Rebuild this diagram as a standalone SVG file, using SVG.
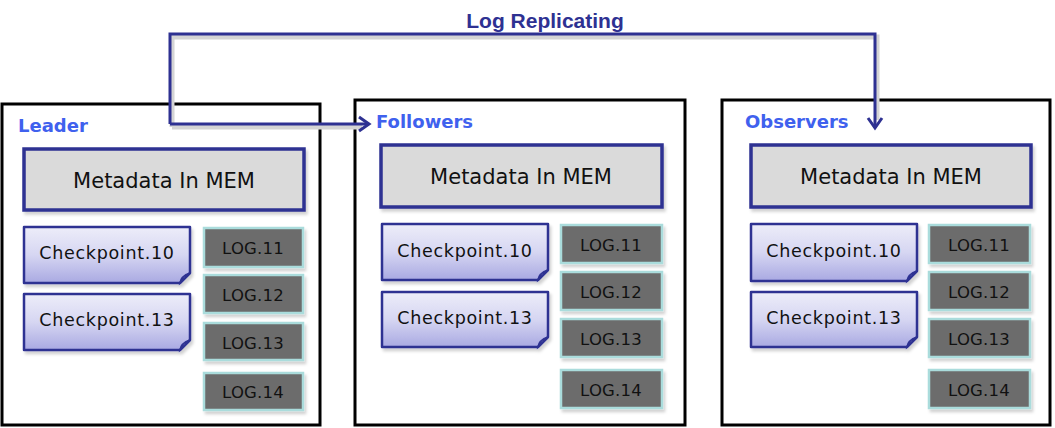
<svg xmlns="http://www.w3.org/2000/svg" width="1055" height="428" viewBox="0 0 1055 428">
<style>
.frame{fill:#fff;stroke:#000;stroke-width:3}
.lbl{font-family:"DejaVu Sans",Verdana,sans-serif;font-weight:bold;font-size:18px;fill:#3f61ee}
.meta{fill:#dadada;stroke:#2e3192;stroke-width:3.5}
.metaT{font-family:"DejaVu Sans",Verdana,sans-serif;font-size:21px;fill:#111;text-anchor:middle}
.cp{fill:url(#cpg);stroke:#2e3192;stroke-width:2.5;stroke-linejoin:round}
.fold{fill:#c8c8ee;stroke:#2e3192;stroke-width:1.8}
.cpT{font-family:"DejaVu Sans",Verdana,sans-serif;font-size:17.5px;letter-spacing:0.7px;fill:#111;text-anchor:middle}
.log{fill:#6c6c6c;stroke:#aadcdc;stroke-width:2.5}
.logT{font-family:"DejaVu Sans",Verdana,sans-serif;font-size:16.5px;letter-spacing:0.2px;fill:#111;text-anchor:middle}
.conn{fill:none;stroke:#2e3192;stroke-width:3}
.connS{fill:none;stroke:#d4d4d4;stroke-width:5}
.title{font-family:"Liberation Sans",Arial,sans-serif;font-weight:bold;font-size:21px;fill:#2e3192;text-anchor:middle}
</style>
<defs>
<linearGradient id="cpg" x1="0" y1="0" x2="0" y2="1">
<stop offset="0" stop-color="#ededf9"/>
<stop offset="0.5" stop-color="#d6d6f2"/>
<stop offset="1" stop-color="#a9a9e2"/>
</linearGradient>
<filter id="sh" x="-10%" y="-10%" width="130%" height="140%">
<feDropShadow dx="2" dy="3" stdDeviation="1.5" flood-color="#000" flood-opacity="0.18"/>
</filter>
<marker id="arr" markerUnits="userSpaceOnUse" markerWidth="20" markerHeight="20" viewBox="-12 -10 14 20" refX="0" refY="0" orient="auto">
<path d="M-10,-7 L0,0 L-10,7" fill="none" stroke="#2e3192" stroke-width="3"/>
</marker>
</defs>

<g id="title"><text class="title" x="545" y="28">Log Replicating</text></g>

<g id="leader">
<rect class="frame" x="2" y="104" width="318" height="321"/>
<text class="lbl" x="18" y="132">Leader</text>
<g filter="url(#sh)">
<rect class="meta" x="24" y="149" width="280" height="61"/>
<path class="cp" d="M24,227 H190 V273 L180,283 H24 Z"/>
<path class="fold" d="M190,273 L180,283 Q181,276 190,273 Z"/>
<path class="cp" d="M24,294 H190 V340 L180,350 H24 Z"/>
<path class="fold" d="M190,340 L180,350 Q181,343 190,340 Z"/>
<rect class="log" x="204" y="228" width="99" height="39"/>
<rect class="log" x="204" y="275" width="99" height="38"/>
<rect class="log" x="204" y="323" width="99" height="37"/>
<rect class="log" x="204" y="373" width="99" height="37"/>
</g>
<text class="metaT" x="164" y="188">Metadata In MEM</text>
<text class="cpT" x="107" y="259">Checkpoint.10</text>
<text class="cpT" x="107" y="326">Checkpoint.13</text>
<text class="logT" x="253" y="254">LOG.11</text>
<text class="logT" x="253" y="301">LOG.12</text>
<text class="logT" x="253" y="349">LOG.13</text>
<text class="logT" x="253" y="398">LOG.14</text>
</g>

<g id="followers">
<rect class="frame" x="355" y="100" width="330" height="325"/>
<text class="lbl" x="376" y="128">Followers</text>
<g filter="url(#sh)">
<rect class="meta" x="381" y="145" width="281" height="62"/>
<path class="cp" d="M382,224 H548 V270 L538,280 H382 Z"/>
<path class="fold" d="M548,270 L538,280 Q539,273 548,270 Z"/>
<path class="cp" d="M382,292 H548 V337 L538,347 H382 Z"/>
<path class="fold" d="M548,337 L538,347 Q539,340 548,337 Z"/>
<rect class="log" x="561" y="225" width="101" height="38"/>
<rect class="log" x="561" y="272" width="101" height="38"/>
<rect class="log" x="561" y="319" width="101" height="38"/>
<rect class="log" x="561" y="370" width="101" height="38"/>
</g>
<text class="metaT" x="521" y="184">Metadata In MEM</text>
<text class="cpT" x="465" y="257">Checkpoint.10</text>
<text class="cpT" x="465" y="324">Checkpoint.13</text>
<text class="logT" x="611" y="251">LOG.11</text>
<text class="logT" x="611" y="298">LOG.12</text>
<text class="logT" x="611" y="345">LOG.13</text>
<text class="logT" x="611" y="396">LOG.14</text>
</g>

<g id="observers">
<rect class="frame" x="722" y="100" width="328" height="325"/>
<text class="lbl" x="745" y="128">Observers</text>
<g filter="url(#sh)">
<rect class="meta" x="751" y="145" width="280" height="62"/>
<path class="cp" d="M751,224 H917 V271 L907,281 H751 Z"/>
<path class="fold" d="M917,271 L907,281 Q908,274 917,271 Z"/>
<path class="cp" d="M751,292 H917 V337 L907,347 H751 Z"/>
<path class="fold" d="M917,337 L907,347 Q908,340 917,337 Z"/>
<rect class="log" x="929" y="225" width="101" height="38"/>
<rect class="log" x="929" y="272" width="101" height="38"/>
<rect class="log" x="929" y="319" width="101" height="38"/>
<rect class="log" x="929" y="370" width="101" height="38"/>
</g>
<text class="metaT" x="891" y="184">Metadata In MEM</text>
<text class="cpT" x="834" y="257">Checkpoint.10</text>
<text class="cpT" x="834" y="324">Checkpoint.13</text>
<text class="logT" x="979" y="251">LOG.11</text>
<text class="logT" x="979" y="298">LOG.12</text>
<text class="logT" x="979" y="345">LOG.13</text>
<text class="logT" x="979" y="396">LOG.14</text>
</g>

<g id="connectors">
<path class="connS" d="M172,127 V37 H877 V120"/>
<path class="connS" d="M172,127 H362"/>
<path class="conn" d="M170,124 V34 H875 V128" marker-end="url(#arr)"/>
<path class="conn" d="M170,124 H369" marker-end="url(#arr)"/>
</g>
</svg>
